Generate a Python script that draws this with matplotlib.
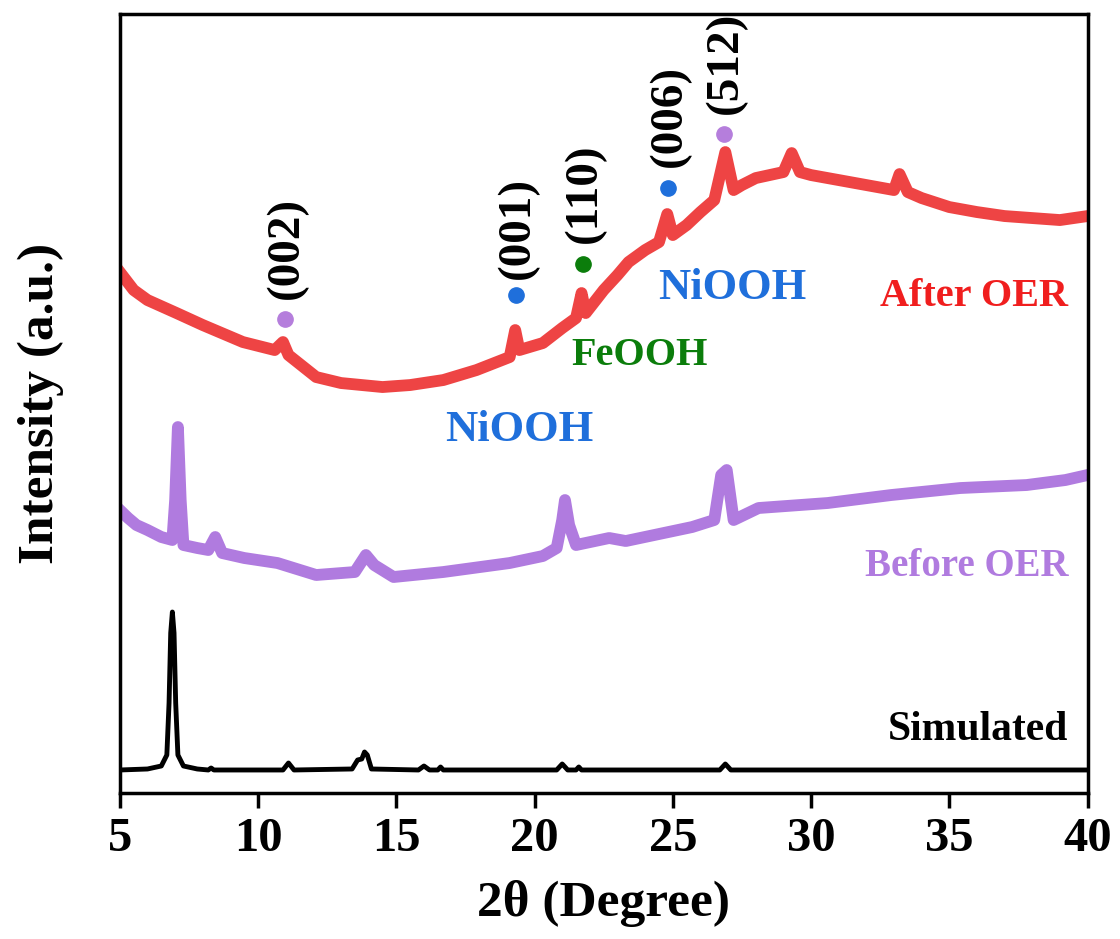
import matplotlib
matplotlib.use('Agg')
import matplotlib.pyplot as plt
import numpy as np

plt.rcParams['font.family'] = ['Liberation Serif', 'DejaVu Serif']
plt.rcParams['font.weight'] = 'bold'

# simulated pattern
sim_x = [5.0, 6.0, 6.5, 6.7, 6.78, 6.84, 6.9, 6.96, 7.02, 7.1, 7.3, 7.8, 8.2, 8.3, 8.4,
         10.9, 11.1, 11.3, 13.4, 13.6, 13.75, 13.85, 13.95, 14.1, 15.8, 16.0, 16.2, 16.5, 16.6,
         16.7, 20.8, 21.0, 21.2, 21.5, 21.6, 21.7, 26.7, 26.9, 27.1, 40.0]
sim_y = [23, 24, 27, 38, 90, 160, 181, 160, 90, 38, 27, 24, 23, 25, 23,
         23, 30, 23, 24, 33, 34, 41, 38, 24, 23, 27, 23, 23, 26,
         23, 23, 29, 23, 23, 26, 23, 23, 29, 23, 23]

# before OER
bef_x = [5.0, 5.3, 5.6, 6.0, 6.5, 6.9, 7.0, 7.1, 7.2, 7.3, 7.8, 8.2, 8.45, 8.7, 9.5,
         10.7, 12.1, 13.5, 13.9, 14.2, 14.9, 16.7, 19.1, 20.3, 20.8, 21.0, 21.1, 21.25,
         21.5, 22.7, 23.3, 25.7, 26.5, 26.75, 26.95, 27.2, 28.1, 30.6, 32.9, 35.4, 37.8,
         39.2, 40.0]
bef_y = [283, 275, 268, 263, 256, 253, 293, 366, 293, 248, 245, 243, 256, 240, 235,
         230, 218, 221, 238, 228, 216, 221, 230, 237, 245, 273, 293, 268,
         248, 255, 252, 266, 273, 318, 323, 273, 285, 290, 298, 305, 308,
         313, 318]

# after OER
aft_x = [5.0, 5.5, 6.0, 7.05, 8.0, 9.45, 10.6, 10.9, 11.1, 12.1, 13.0, 14.5, 15.5, 16.7,
         17.9, 19.1, 19.3, 19.45, 20.3, 21.0, 21.5, 21.7, 21.85, 22.5, 23.0, 23.4, 24.0,
         24.5, 24.8, 25.0, 25.5, 26.0, 26.5, 26.9, 27.2, 27.5, 28.0, 28.5, 29.0, 29.3,
         29.6, 30.0, 31.0, 32.0, 33.0, 33.2, 33.5, 34.0, 35.0, 36.0, 37.0, 38.0, 39.0, 40.0]
aft_y = [521, 503, 493, 480, 468, 451, 443, 451, 438, 416, 410, 406, 408, 413,
         423, 436, 463, 443, 450, 465, 475, 500, 480, 503, 518, 531, 543,
         551, 579, 558, 568, 581, 593, 641, 603, 608, 615, 618, 621, 640,
         621, 618, 613, 608, 603, 619, 601, 595, 586, 581, 577, 575, 573, 577]

# reflections
refl_x = [10.97, 19.32, 21.74, 24.81, 26.84]
refl_y = [474, 498, 529, 605, 659]
refl_lab = ['(002)', '(001)', '(110)', '(006)', '(512)']
refl_lab_y = [545, 565, 600, 677, 730]
refl_col = ['#B57EDC', '#1F6FDB', '#0B7D0B', '#1F6FDB', '#B57EDC']

red = '#EE4444'
purple = '#B07BDF'
blue = '#1F6FDB'
green = '#0B7D0B'

fig = plt.figure(figsize=(11.2, 9.39), dpi=100)
ax = fig.add_axes([0.107, 0.1555, 0.864, 0.8295])

ax.plot(sim_x, sim_y, color='black', lw=3.5, solid_joinstyle='round')
ax.plot(bef_x, bef_y, color=purple, lw=8.5, solid_joinstyle='round')
ax.plot(aft_x, aft_y, color=red, lw=8.5, solid_joinstyle='round')

for x, y, lab, ly, c in zip(refl_x, refl_y, refl_lab, refl_lab_y, refl_col):
    ax.plot(x, y, 'o', color=c, markersize=11)
    ax.text(x + 0.07, ly, lab, rotation=90, ha='center', va='center',
            fontsize=34, fontweight='bold', color='black')

ax.text(19.46, 363, 'NiOOH', color=blue, fontsize=32, ha='center', va='center')
ax.text(23.8, 438, 'FeOOH', color=green, fontsize=29, ha='center', va='center')
ax.text(27.16, 505, 'NiOOH', color=blue, fontsize=32, ha='center', va='center')
ax.text(39.3, 497, 'After OER', color='#F01E1E', fontsize=29, ha='right', va='center')
ax.text(39.3, 227, 'Before OER', color=purple, fontsize=28, ha='right', va='center')
ax.text(39.3, 63, 'Simulated', color='black', fontsize=30, ha='right', va='center')

ax.set_xlim(5, 40)
ax.set_ylim(0, 779)
ax.set_yticks([])
ax.set_xticks([5, 10, 15, 20, 25, 30, 35, 40])
ax.tick_params(axis='x', direction='out', length=11, width=2.5, labelsize=35, pad=6)
for s in ax.spines.values():
    s.set_linewidth(2.5)

ax.set_xlabel('2θ (Degree)', fontsize=37, fontweight='bold', labelpad=14)
ax.set_ylabel('Intensity (a.u.)', fontsize=37, fontweight='bold', labelpad=40)

fig.savefig('out.png', dpi=100)
